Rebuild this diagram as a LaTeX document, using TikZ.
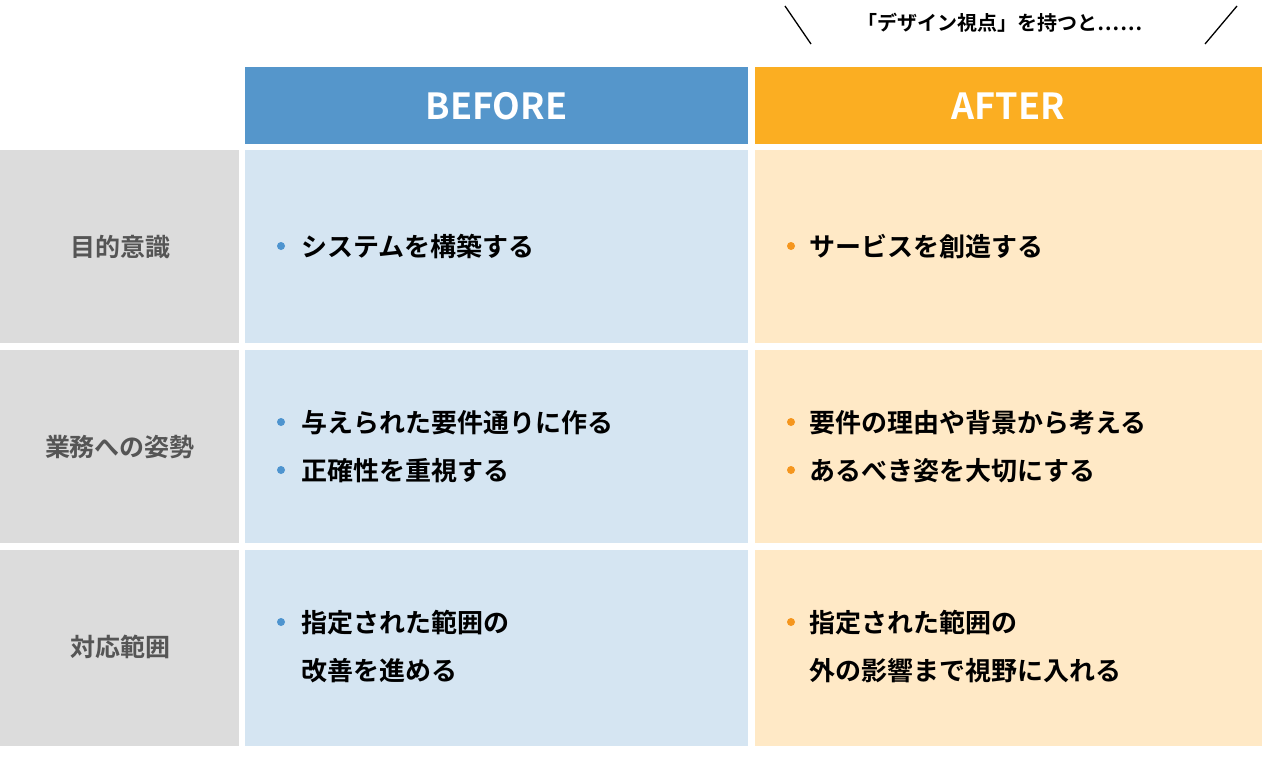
\documentclass[tikz,border=0pt]{standalone}
\usepackage{fontspec}
\setmainfont{Noto Sans CJK JP}
\newfontfamily\jpb{Noto Sans CJK JP Bold}
\definecolor{bhead}{HTML}{5596CB}
\definecolor{ahead}{HTML}{FBAE22}
\definecolor{bbody}{HTML}{D5E5F2}
\definecolor{abody}{HTML}{FFE9C6}
\definecolor{lgray}{HTML}{DCDCDC}
\definecolor{ltext}{HTML}{555555}
\definecolor{bdot}{HTML}{4E94CF}
\definecolor{adot}{HTML}{F5961E}
\tikzset{
 hdr/.style={font=\jpb\fontsize{36}{40}\selectfont, text=white},
 lbl/.style={font=\jpb\fontsize{25}{30}\selectfont, text=ltext},
 body/.style={font=\jpb\fontsize{26}{48}\selectfont, text=black, anchor=west, align=left},
 bdotst/.style={circle, fill=bdot, inner sep=0pt, minimum size=8pt},
 adotst/.style={circle, fill=adot, inner sep=0pt, minimum size=8pt}
}
\begin{document}
\begin{tikzpicture}[x=1pt,y=-1pt]
\useasboundingbox (0,0) rectangle (1264,779);
\fill[white] (0,0) rectangle (1264,779);
% header
\fill[bhead] (245,67) rectangle (748,144);
\fill[ahead] (755,67) rectangle (1262,144);
\node[hdr] (hb) at (496.5,106) {BEFORE};
\node[hdr] (ha) at (1008.5,106) {AFTER};
% top caption
\node[font=\jpb\fontsize{20}{24}\selectfont] (cap) at (1000,23) {「デザイン視点」を持つと……};
\draw[line width=1.3pt] (785,6) -- (811,44);
\draw[line width=1.3pt] (1237,6) -- (1205,44);
% rows
\foreach \t/\b in {150/343,350/543,550/746}{
 \fill[lgray] (0,\t) rectangle (239,\b);
 \fill[bbody] (245,\t) rectangle (748,\b);
 \fill[abody] (755,\t) rectangle (1262,\b);
}
\node[lbl] (l1) at (120,247) {目的意識};
\node[lbl] (l2) at (120,447) {業務への姿勢};
\node[lbl] (l3) at (120,647) {対応範囲};
% row1
\node[bdotst] (d1) at (281,246) {};
\node[body] (t1) at (298,247) {システムを構築する};
\node[adotst] (e1) at (791,246) {};
\node[body] (u1) at (806,247) {サービスを創造する};
% row2
\node[bdotst] (d2) at (281,422) {};
\node[bdotst] (d3) at (281,470) {};
\node[body] (t2) at (298,447) {与えられた要件通りに作る\\正確性を重視する};
\node[adotst] (e2) at (791,422) {};
\node[adotst] (e3) at (791,470) {};
\node[body] (u2) at (806,447) {要件の理由や背景から考える\\あるべき姿を大切にする};
% row3
\node[bdotst] (d4) at (281,622) {};
\node[body] (t3) at (298,647) {指定された範囲の\\改善を進める};
\node[adotst] (e4) at (791,622) {};
\node[body] (u3) at (806,647) {指定された範囲の\\外の影響まで視野に入れる};
\end{tikzpicture}
\end{document}
